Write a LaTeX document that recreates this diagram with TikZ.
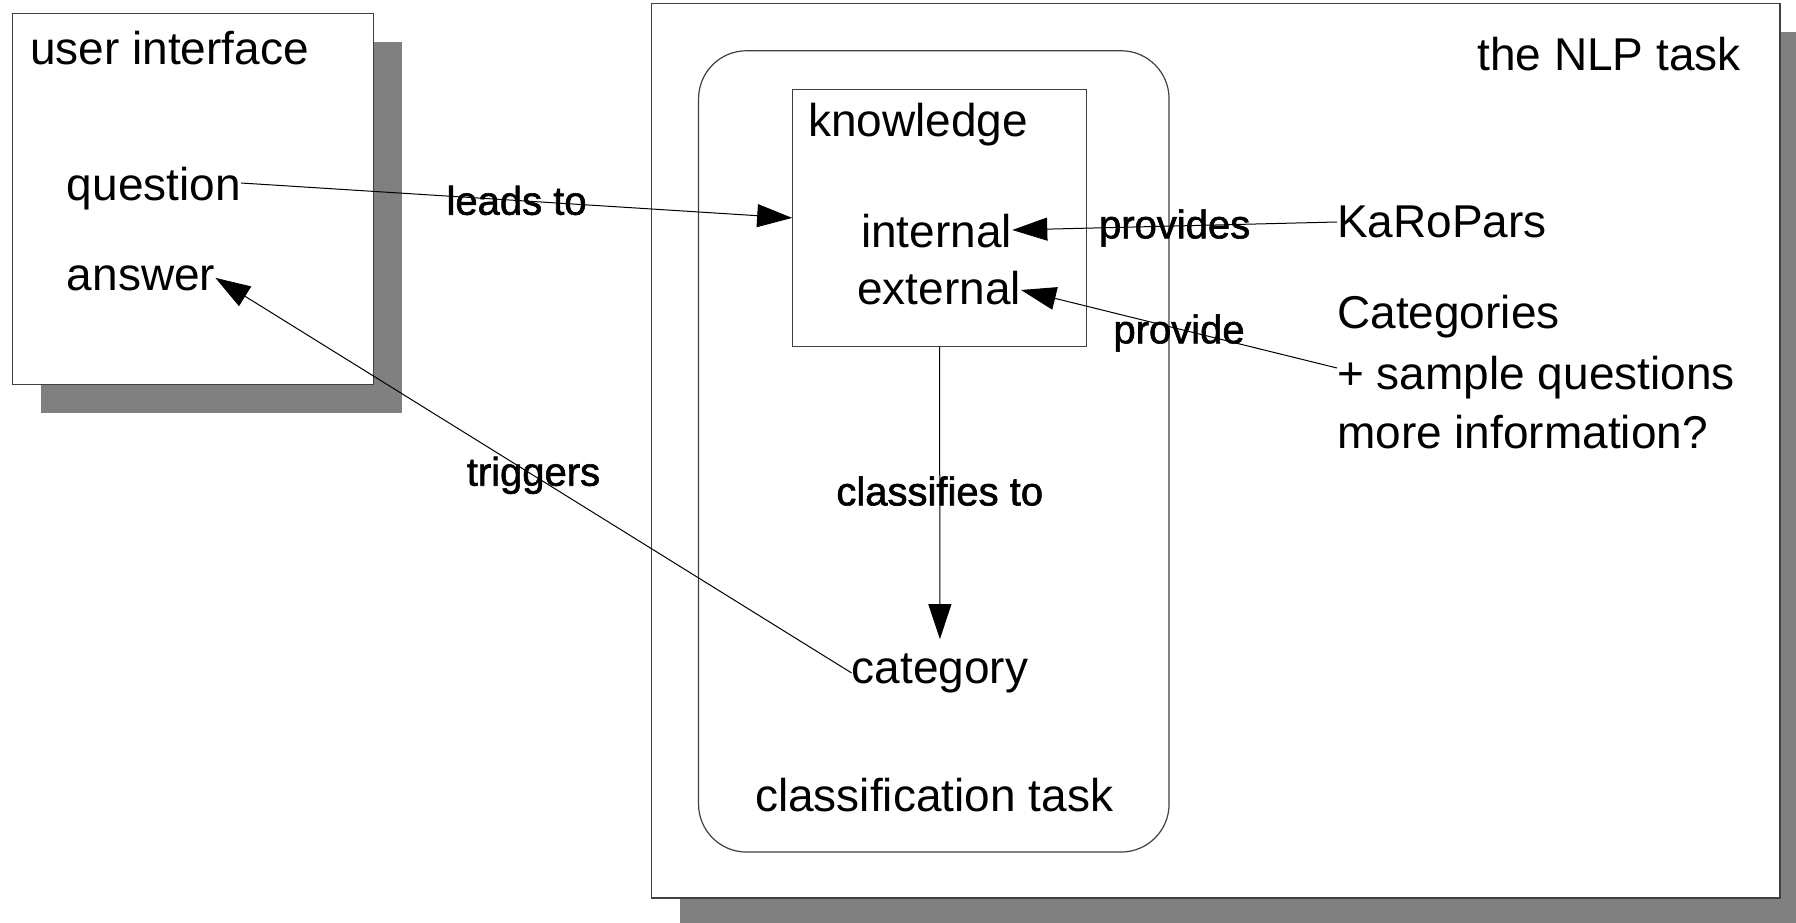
\documentclass[tikz,border=0pt]{standalone}
\usepackage{fontspec}
\setmainfont{Liberation Sans}
\newfontfamily\lblfamily[FakeBold=1.5]{Liberation Sans}
\usepackage{tikz}
\usetikzlibrary{arrows}
\usetikzlibrary{arrows.meta}
\tikzset{>={Triangle[width=23pt,length=35pt]}}
\tikzset{
  frame/.style={draw=black!75, line width=1.2pt, fill=white, inner sep=0pt},
  shade/.style={fill=black!50},
  txt/.style={inner sep=0pt, anchor=base west, font=\fontsize{46}{60}\selectfont},
  lbl/.style={inner sep=0pt, font=\lblfamily\fontsize{40}{48}\selectfont},
  link/.style={->, line width=1pt},
}

\begin{document}
\begin{tikzpicture}[x=1pt,y=-1pt]
  \useasboundingbox (0,0) rectangle (1796,923);
  % Draw shadows and frames
  \fill[shade] (40.7,41.7) rectangle (402,413);
  \node[frame, minimum width=360.6pt, minimum height=371pt] (ui) at (193,198.8) {};
  \fill[shade] (680,32) rectangle (1796,923);
  \node[frame, minimum width=1128.3pt, minimum height=894.6pt] (nlp) at (1215.9,450.7) {};
  \node[frame, rounded corners=48pt, minimum width=470.5pt, minimum height=801.3pt] (cls) at (933.8,451.4) {};
  \node[frame, minimum width=293.7pt, minimum height=257.2pt] (know) at (939.6,217.9) {};
  % Draw texts
  \node[txt] (uititle) at (30,65) {user interface};
  \node[txt] (question) at (66.7,200) {question};
  \node[txt] (answer) at (66.7,290) {answer};
  \node[txt, anchor=base east] (nlptitle) at (1741,71) {the NLP task};
  \node[txt] (knowtitle) at (808,137) {knowledge};
  \node[txt] (internal) at (861,247) {internal};
  \node[txt] (external) at (857,304) {external};
  \node[txt] (category) at (851.5,683) {category};
  \node[txt] (clstitle) at (755,811) {classification task};
  \node[txt] (karopars) at (1337,237) {KaRoPars};
  \foreach \name/\y/\txt in {cats/328/Categories, sample/389/+ sample questions, moreinfo/448/more information?}
    \node[txt] (\name) at (1337,\y) {\txt};
  % Draw connectors
  \draw[link] ([yshift=17pt]question.base east) -- (know.west) node[lbl, pos=.5] {leads to};
  \draw[link] ([yshift=15pt]karopars.base west) -- ([yshift=17pt]internal.base east) node[lbl, pos=.5, yshift=-2pt] {provides};
  \draw[link] ([yshift=21pt]sample.base west) -- ([yshift=14pt]external.base east) node[lbl, pos=.5, yshift=-4pt] {provide};
  \draw[link] (know.south) -- ([yshift=14pt]category.north) node[lbl, pos=.5, yshift=2pt] {classifies to};
  \draw[link] (category.west) -- (answer.east) node[lbl, pos=.5] {triggers};
\end{tikzpicture}
\end{document}
